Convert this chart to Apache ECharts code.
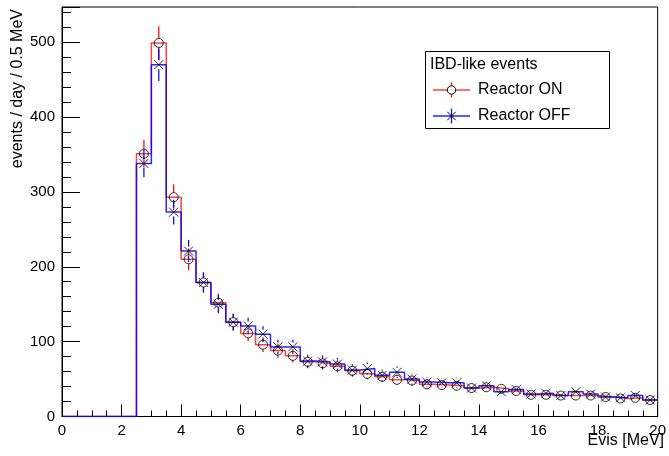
<!DOCTYPE html>
<html>
<head>
<meta charset="utf-8">
<script src="https://cdn.jsdelivr.net/npm/echarts@6/dist/echarts.min.js"></script>
<style>
html,body{margin:0;padding:0;background:#fff;}
#chart{width:669px;height:456px;}
</style>
</head>
<body>
<div id="chart"></div>
<script>
// ---- data (0.5 MeV bins from 0 to 20 MeV) ----
const binWidth = 0.5;
const reactorOn  = [0,0,0,0,0, 351,499,293,210,179,152,126,111,96,88,81,73,71,67,61,57,53,49,48,43,42,41,38,39,37,34,29,29,28,28,28,26,24,25,22];
const reactorOnErr = [0,0,0,0,0, 18.7,22.3,17.1,14.5,13.4,12.3,11.2,10.5,9.8,9.4,9.0,8.5,8.4,8.2,7.8,7.5,7.3,7.0,6.9,6.6,6.5,6.4,6.2,6.2,6.1,5.8,5.4,5.4,5.3,5.3,5.3,5.1,4.9,5.0,4.7];
const reactorOff = [0,0,0,0,0, 338,470,273,221,179,150,126,121,110,93,93,74,73,70,62,64,55,59,50,46,45,45,38,41,33,36,30,31,28,33,30,26,25,28,22];
const reactorOffErr = [0,0,0,0,0, 18.4,21.7,16.5,14.9,13.4,12.2,11.2,11.0,10.5,9.6,9.6,8.6,8.5,8.4,7.9,8.0,7.4,7.7,7.1,6.8,6.7,6.7,6.2,6.4,5.7,6.0,5.5,5.6,5.3,5.7,5.5,5.1,5.0,5.3,4.7];
const xTicks = {min:0, max:20, interval:2};
const yTicks = {min:0, max:547, interval:100};
const xTitle = 'Evis [MeV]';
const yTitle = 'events / day / 0.5 MeV';
const legendTitle = 'IBD-like events';
const legendNames = ['Reactor ON', 'Reactor OFF'];

// ---- build library inputs ----
function stepData(vals){
  const out = [];
  vals.forEach((v,i)=>{ out.push([i*binWidth, v]); out.push([(i+1)*binWidth, v]); });
  return out;
}
function pointData(vals, errs){
  const out = [];
  vals.forEach((v,i)=>{ if (v > 0) out.push([(i+0.5)*binWidth, v, errs[i]]); });
  return out;
}
const FONT = '"Liberation Sans", Arial, Helvetica, sans-serif';
const RED = 'rgba(255,0,0,0.75)';
const BLUE = 'rgba(0,0,255,0.85)';
const XPATH = 'path://M0,0L10,10M10,0L0,10';

function errRender(color){
  return function(params, api){
    const x = api.value(0), v = api.value(1), e = api.value(2);
    const c = api.coord([x, v]);
    const t = api.coord([x, v + e]);
    const b = api.coord([x, v - e]);
    const gap = 4.5;
    const children = [];
    if (c[1] - gap > t[1]) children.push({type:'line', shape:{x1:c[0],y1:t[1],x2:c[0],y2:c[1]-gap}, style:{stroke:color, lineWidth:1.2}});
    if (b[1] > c[1] + gap) children.push({type:'line', shape:{x1:c[0],y1:c[1]+gap,x2:c[0],y2:b[1]}, style:{stroke:color, lineWidth:1.2}});
    return {type:'group', children};
  };
}

const chart = echarts.init(document.getElementById('chart'), null, {renderer:'canvas'});
const option = {
  backgroundColor:'#fff',
  animation:false,
  grid:{left:62, top:7, width:604, height:409.5, show:true, borderColor:'#000', borderWidth:1, backgroundColor:'transparent'},
  xAxis:{
    type:'value', min:xTicks.min, max:xTicks.max, interval:xTicks.interval,
    axisLine:{show:true, onZero:false, lineStyle:{color:'#000', width:1}},
    axisTick:{show:true, inside:true, length:12, lineStyle:{color:'#000'}},
    minorTick:{show:true, splitNumber:4, length:6, lineStyle:{color:'#000'}},
    splitLine:{show:false},
    axisLabel:{color:'#000', fontSize:15, fontFamily:FONT, margin:7}
  },
  yAxis:{
    type:'value', min:yTicks.min, max:yTicks.max, interval:yTicks.interval,
    axisLine:{show:true, onZero:false, lineStyle:{color:'#000', width:1}},
    axisTick:{show:true, inside:true, length:18, lineStyle:{color:'#000'}},
    minorTick:{show:true, splitNumber:5, length:9, lineStyle:{color:'#000'}},
    splitLine:{show:false},
    axisLabel:{color:'#000', fontSize:15, fontFamily:FONT, margin:7, showMaxLabel:false}
  },
  series:[
    {name:legendNames[0]+' hist', type:'line', data:stepData(reactorOn), showSymbol:false, symbol:'none', lineStyle:{color:RED, width:1.5}, z:2},
    {name:legendNames[1]+' hist', type:'line', data:stepData(reactorOff), showSymbol:false, symbol:'none', lineStyle:{color:BLUE, width:1.5}, z:3},
    {name:legendNames[0]+' err', type:'custom', data:pointData(reactorOn, reactorOnErr), renderItem:errRender('#ff0000'), encode:{x:0,y:1}, z:4},
    {name:legendNames[1]+' err', type:'custom', data:pointData(reactorOff, reactorOffErr), renderItem:errRender('#0000ff'), encode:{x:0,y:1}, z:5},
    {name:legendNames[0], type:'scatter', data:pointData(reactorOn, reactorOnErr), symbol:'circle', symbolSize:9,
      itemStyle:{color:'rgba(0,0,0,0)', borderColor:'#000', borderWidth:1}, z:6},
    {name:legendNames[1], type:'scatter', data:pointData(reactorOff, reactorOffErr), symbol:XPATH, symbolSize:9,
      itemStyle:{color:'rgba(0,0,0,0)', borderColor:'#000', borderWidth:1}, z:7}
  ],
  graphic:[
    {type:'text', x:664, y:441, style:{text:xTitle, font:'16px '+FONT, fill:'#000', align:'right', verticalAlign:'middle'}},
    {type:'text', x:18, y:9, rotation:Math.PI/2, style:{text:yTitle, font:'16px '+FONT, fill:'#000', align:'right', verticalAlign:'middle'}},
    {type:'rect', shape:{x:425.5, y:51.5, width:184, height:77}, style:{fill:'#fff', stroke:'#000', lineWidth:1}, z:100},
    {type:'text', x:430, y:65, style:{text:legendTitle, font:'16px '+FONT, fill:'#000', align:'left', verticalAlign:'middle'}, z:101},
    {type:'line', shape:{x1:433, y1:90, x2:470, y2:90}, style:{stroke:RED, lineWidth:1.5}, z:101},
    {type:'line', shape:{x1:451.5, y1:82.5, x2:451.5, y2:97.5}, style:{stroke:'#ff0000', lineWidth:1.2}, z:101},
    {type:'circle', shape:{cx:451.5, cy:90, r:4.2}, style:{fill:'#fff', stroke:'#000', lineWidth:1}, z:102},
    {type:'text', x:478, y:90, style:{text:legendNames[0], font:'16px '+FONT, fill:'#000', align:'left', verticalAlign:'middle'}, z:101},
    {type:'line', shape:{x1:433, y1:116, x2:470, y2:116}, style:{stroke:BLUE, lineWidth:1.5}, z:101},
    {type:'line', shape:{x1:451.5, y1:108.5, x2:451.5, y2:123.5}, style:{stroke:'#0000ff', lineWidth:1.2}, z:101},
    {type:'polyline', shape:{points:[[447.3,111.8],[455.7,120.2]]}, style:{stroke:'#000', lineWidth:1}, z:102},
    {type:'polyline', shape:{points:[[455.7,111.8],[447.3,120.2]]}, style:{stroke:'#000', lineWidth:1}, z:102},
    {type:'text', x:478, y:116, style:{text:legendNames[1], font:'16px '+FONT, fill:'#000', align:'left', verticalAlign:'middle'}, z:101}
  ]
};
chart.setOption(option);
</script>
</body>
</html>
